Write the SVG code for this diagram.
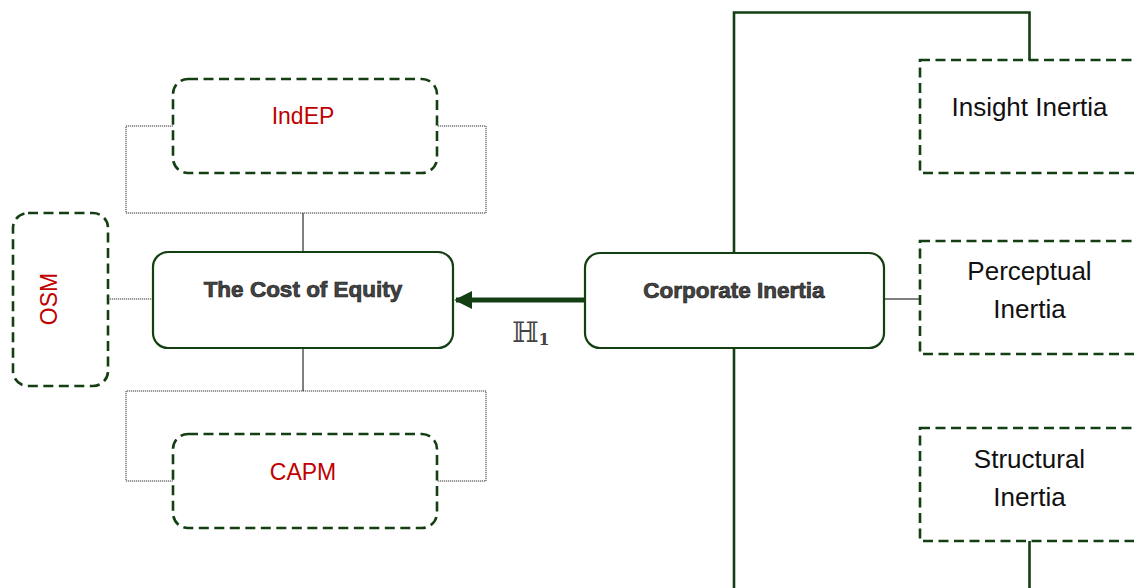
<svg xmlns="http://www.w3.org/2000/svg" width="1134" height="588" viewBox="0 0 1134 588">
<defs>
<style>
.main{fill:#fff;stroke:#133f12;stroke-width:2.2}
.dash{fill:#fff;stroke:#133f12;stroke-width:2.6;stroke-dasharray:10 5.5}
.dot{fill:none;stroke:#333;stroke-width:1;stroke-dasharray:1.2 0.8}
.thin{fill:none;stroke:#000;stroke-width:1}
.trunk{fill:none;stroke:#133f12;stroke-width:2.6}
.bold{font-family:"Liberation Sans",Arial,sans-serif;font-weight:bold;font-size:22.5px;fill:#444;stroke:#1e1e1e;stroke-width:0.7;text-anchor:middle}
.red{font-family:"Liberation Sans",Arial,sans-serif;font-size:23px;fill:#c00000;text-anchor:middle}
.lbl{font-family:"Liberation Sans",Arial,sans-serif;font-size:26px;fill:#111;text-anchor:middle}
</style>
<marker id="ah" viewBox="0 0 10 10" refX="9" refY="5" markerWidth="3.6" markerHeight="3.6" markerUnits="strokeWidth" orient="auto">
<path d="M0,0 L10,5 L0,10 z" fill="#133f12"/>
</marker>
</defs>
<g id="connectors">
<path class="dot" d="M173,126 H126 V213 H486 V126 H437"/>
<line class="thin" x1="303" y1="213" x2="303" y2="252"/>
<path class="dot" d="M173,481 H126 V391 H486 V481 H437"/>
<line class="thin" x1="303" y1="348" x2="303" y2="391"/>
<line class="dot" x1="108" y1="299" x2="153" y2="299"/>
<line x1="585" y1="300" x2="456" y2="300" stroke="#133f12" stroke-width="5" marker-end="url(#ah)"/>
<path class="trunk" d="M734,253 V12.5 H1029.5 V60"/>
<line class="trunk" x1="734" y1="348" x2="734" y2="588"/>
<line class="trunk" x1="1029.5" y1="541" x2="1029.5" y2="588"/>
<line class="thin" x1="885" y1="299" x2="920" y2="299"/>
<text x="512" y="342" font-family="DejaVu Serif,serif" font-size="28" fill="#444">ℍ<tspan font-size="16" font-weight="bold" dy="3">1</tspan></text>
</g>
<g id="indep">
<rect class="dash" x="173" y="79" width="264" height="94" rx="15"/>
<text class="red" x="303" y="124">IndEP</text>
</g>
<g id="capm">
<rect class="dash" x="173" y="434" width="264" height="94" rx="15"/>
<text class="red" x="303" y="480">CAPM</text>
</g>
<g id="osm">
<rect class="dash" x="13" y="213" width="95" height="173" rx="15"/>
<text class="red" x="57" y="299" transform="rotate(-90 57 299)">OSM</text>
</g>
<g id="cost-of-equity">
<rect class="main" x="153" y="252" width="300" height="96" rx="15"/>
<text class="bold" x="303" y="297">The Cost of Equity</text>
</g>
<g id="corporate-inertia">
<rect class="main" x="585" y="253" width="299" height="95" rx="15"/>
<text class="bold" x="734" y="298">Corporate Inertia</text>
</g>
<g id="insight-inertia">
<rect class="dash" x="920" y="60" width="260" height="113"/>
<text class="lbl" x="1029.5" y="116">Insight Inertia</text>
</g>
<g id="perceptual-inertia">
<rect class="dash" x="920" y="241" width="260" height="113"/>
<text class="lbl" x="1029.5" y="280">Perceptual</text>
<text class="lbl" x="1029.5" y="318">Inertia</text>
</g>
<g id="structural-inertia">
<rect class="dash" x="920" y="428" width="260" height="113"/>
<text class="lbl" x="1029.5" y="468">Structural</text>
<text class="lbl" x="1029.5" y="506">Inertia</text>
</g>
</svg>
